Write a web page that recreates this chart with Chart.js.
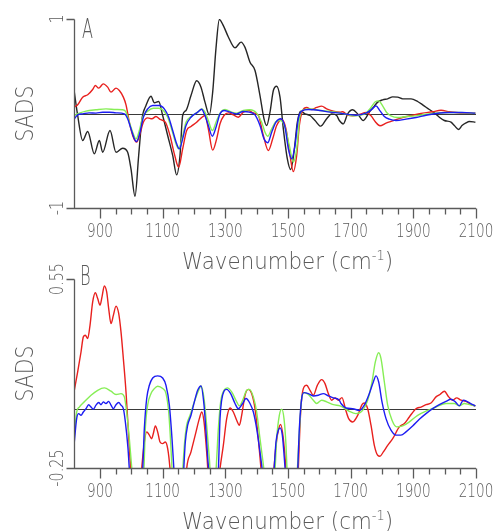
<!DOCTYPE html>
<html>
<head>
<meta charset="utf-8">
<script src="https://cdn.jsdelivr.net/npm/chart.js@4.4.1/dist/chart.umd.min.js"></script>
<style>
  html, body { margin: 0; padding: 0; background: #fff; }
  #wrap { position: relative; width: 495px; height: 531px; overflow: hidden; }
  #wrap canvas { position: absolute; left: 0; }
  #panelA { top: 0; }
  #panelB { top: 260px; }
</style>
</head>
<body>
<div id="wrap">
  <canvas id="panelA" width="495" height="275"></canvas>
  <canvas id="panelB" width="495" height="271"></canvas>
</div>
<script>
// ---- tick labels ----
const xTickMajor = [900, 1100, 1300, 1500, 1700, 1900, 2100];
const xTickMinor = [950, 1000, 1050, 1150, 1200, 1250, 1350, 1400, 1450, 1550, 1600, 1650,
                    1750, 1800, 1850, 1950, 2000, 2050];
const yTicksA = [-1, 1];
const yTickLabelsA = ['-1', '1'];
const yTicksB = [-0.25, 0.55];
const yTickLabelsB = ['-0.25', '0.55'];

// ---- panel A : SADS ----
const waveA_black = [818, 828.7, 844.7, 860.7, 881.9, 897.9, 908.5, 931.9, 951.1, 972.3, 988.3, 998.9,
  1011.7, 1023.4, 1034, 1046.8, 1062.8, 1073.4, 1087.2, 1100, 1116, 1132, 1144.7, 1155.3, 1163.8,
  1174.5, 1190.4, 1208.5, 1222.3, 1235, 1249, 1259.6, 1270, 1280.9, 1293.6, 1309.6, 1330.9, 1350,
  1362.8, 1378.7, 1394.7, 1410.6, 1423.4, 1432, 1442.5, 1453.2, 1463.8, 1474.5, 1485.1, 1497.9,
  1508.5, 1519.1, 1529.8, 1540.4, 1554.3, 1570.2, 1586.2, 1604.3, 1623.4, 1639.4, 1655.3, 1663.8,
  1676.6, 1690.4, 1706.4, 1722.4, 1740.4, 1759.6, 1775.5, 1786.2, 1802.1, 1818.1, 1834.1, 1850,
  1866, 1892.6, 1913.8, 1929.8, 1951.1, 1967, 1983, 1999, 2020.2, 2030.9, 2044.7, 2055.3, 2068.1,
  2078.7, 2098];
const sadsA_black = [0.226, -0.02, -0.286, -0.19, -0.427, -0.286, -0.41, -0.18, -0.41, -0.367, -0.41, -0.586,
  -0.875, -0.444, -0.056, 0.085, 0.183, 0.113, 0.127, -0.021, -0.233, -0.444, -0.649, -0.444, -0.021,
  0.032, 0.19, 0.346, 0.279, 0.12, -0.014, 0.226, 0.684, 0.995, 0.93, 0.81, 0.695, 0.755,
  0.70, 0.543, 0.455, 0.19, -0.056, -0.127, 0.014, 0.243, 0.289, 0.173, -0.162, -0.48,
  -0.593, -0.409, -0.092, 0.025, -0.004, -0.021, -0.074, -0.134, -0.056, -0.004, -0.021, -0.074,
  -0.11, -0.004, 0.039, -0.004, -0.074, 0.014, 0.078, 0.12, 0.145, 0.155, 0.176, 0.173,
  0.155, 0.155, 0.127, 0.092, 0.042, 0.007, -0.039, -0.074, -0.092, -0.127, -0.169, -0.127, -0.099,
  -0.085, -0.092];

const waveA_red = [818, 828.7, 844.7, 860.7, 876.6, 885.1, 895.8, 910.6, 924.5, 935.1, 951.1, 961.7,
  974.5, 983, 993.6, 1004.3, 1017, 1027.7, 1038.3, 1052.1, 1065.9, 1078.7, 1091.5, 1108.5, 1123.4,
  1137.2, 1151, 1163.8, 1176.6, 1190.4, 1208.5, 1222.3, 1235, 1245.7, 1259.6, 1272.3, 1283, 1295.7,
  1309.6, 1325.5, 1341.5, 1357.4, 1373.4, 1389.4, 1405.3, 1421.3, 1437.2, 1451.1, 1463.8, 1479.8,
  1493.6, 1506.4, 1517, 1527.7, 1536.2, 1546.8, 1559.6, 1575.5, 1591.5, 1607.4, 1623.4, 1644.7,
  1666, 1674.5, 1690.4, 1706.4, 1727.7, 1749, 1764.9, 1778.7, 1793.6, 1812.8, 1834.1, 1866,
  1897.9, 1929.8, 1961.7, 1988.3, 2014.9, 2036.2, 2057.4, 2098];
const sadsA_red = [0.067, 0.092, 0.173, 0.198, 0.254, 0.296, 0.268, 0.314, 0.279, 0.226, 0.268, 0.243,
  0.173, 0.092, -0.092, -0.233, -0.303, -0.215, -0.092, -0.046, -0.056, -0.032, -0.063, -0.092, -0.233,
  -0.427, -0.568, -0.374, -0.18, -0.138, -0.092, -0.049, -0.021, -0.162, -0.388, -0.268, -0.109, -0.021,
  0.007, -0.014, -0.039, 0.014, 0.032, 0.007, -0.021, -0.233, -0.392, -0.268, -0.127, -0.063,
  -0.162, -0.444, -0.614, -0.444, -0.127, 0.032, 0.064, 0.042, 0.064, 0.078, 0.049, 0.025,
  0.014, 0.018, -0.018, -0.025, -0.011, 0.011, -0.025, -0.088, -0.13, -0.102, -0.078, -0.042,
  -0.018, 0.004, 0.018, 0.035, 0.018, 0.011, 0.004, 0.004];

const waveA_green = [818, 834, 855.3, 887.2, 919.1, 951.1, 972.3, 983, 993.6, 1004.3, 1015, 1025.5,
  1036.2, 1052.1, 1070.2, 1087.2, 1102.1, 1116, 1129.8, 1142.6, 1151, 1161.7, 1174.5, 1190.4, 1211.7,
  1225, 1235, 1245.7, 1258.5, 1272.3, 1285.1, 1299, 1320.2, 1336.2, 1357.4, 1378.7, 1400, 1416,
  1426.6, 1435.1, 1447.9, 1461.7, 1476.6, 1490.4, 1504.2, 1517, 1527.7, 1538.3, 1549, 1570.2, 1602.1,
  1634, 1666, 1685.1, 1706.4, 1727.7, 1749, 1764.9, 1778.7, 1789.4, 1802.1, 1814.9, 1828.7, 1850,
  1876.6, 1908.5, 1940.4, 1972.3, 2004.3, 2036.2, 2098];
const sadsA_green = [-0.021, 0.004, 0.025, 0.039, 0.049, 0.042, 0.039, 0.014, -0.092, -0.198, -0.268, -0.18,
  -0.039, 0.025, 0.056, 0.056, 0.032, -0.039, -0.18, -0.321, -0.374, -0.268, -0.092, -0.032, 0.014,
  0.049, 0.014, -0.074, -0.18, -0.074, 0.014, 0.042, 0.014, 0.004, 0.032, 0.039, 0.004, -0.092,
  -0.198, -0.24, -0.162, -0.085, -0.074, -0.145, -0.339, -0.515, -0.374, -0.021, 0.039, 0.049, 0.032,
  0.021, 0.007, -0.007, -0.025, -0.018, 0.004, 0.064, 0.124, 0.134, 0.081, 0.011, -0.025, -0.042,
  -0.032, -0.025, -0.007, 0.004, 0.011, 0.011, 0.004];

const waveA_blue = [818, 828.7, 844.7, 865, 887.2, 908.5, 930, 951.1, 977.7, 988.3, 998.9, 1009.6,
  1017, 1027.7, 1038.3, 1052.1, 1068.1, 1089.4, 1105.3, 1119.2, 1132, 1144.7, 1153.2, 1163.8, 1174.5,
  1190.4, 1211.7, 1224, 1235, 1245.7, 1258.5, 1270.2, 1283, 1295.7, 1315, 1336.2, 1357.4, 1376.6,
  1394.7, 1410.6, 1423.4, 1435.1, 1447.9, 1461.7, 1476.6, 1490.4, 1501.1, 1511.7, 1522.3, 1532.9,
  1543.6, 1564.9, 1602.1, 1634, 1666, 1685, 1717, 1749, 1768.1, 1780.9, 1793.6, 1807.5, 1823.4,
  1844.7, 1876.6, 1908.5, 1940.4, 1972.3, 2014.9, 2055, 2098];
const sadsA_blue = [-0.056, -0.014, -0.004, 0.007, 0.004, 0.014, 0.014, 0.007, -0.004, -0.056, -0.162, -0.268,
  -0.296, -0.198, -0.039, 0.049, 0.085, 0.085, 0.049, -0.039, -0.18, -0.321, -0.374, -0.268, -0.127,
  -0.039, 0.014, 0.045, -0.021, -0.127, -0.24, -0.145, -0.004, 0.032, 0.014, -0.004, 0.021, 0.014,
  -0.014, -0.127, -0.268, -0.31, -0.198, -0.092, -0.056, -0.145, -0.374, -0.48, -0.339, -0.056,
  0.025, 0.042, 0.032, 0.014, 0.004, -0.007, -0.018, 0.004, 0.046, 0.081, 0.028, -0.032, -0.06,
  -0.074, -0.06, -0.042, -0.018, 0, 0.011, 0.011, 0.004];

// ---- panel B : SADS ----
const waveB_red = [818, 828.7, 839.4, 846.8, 853.2, 860.7, 868.1, 876.6, 885.1, 892.6, 900, 906.4,
  913.8, 921.3, 927.7, 935.1, 942.6, 951.1, 959.6, 967, 974.5, 983, 989.4, 995.8, 1017, 1034,
  1041.5, 1049, 1057.5, 1064.9, 1070.2, 1076.6, 1084, 1091.5, 1100, 1108.5, 1116, 1123.4, 1150,
  1176.6, 1190.4, 1206.4, 1217, 1225, 1232, 1240.4, 1260, 1283, 1293.6, 1304.3, 1314.9, 1325.5,
  1336.2, 1344.7, 1352.1, 1362.8, 1373.4, 1384, 1394.7, 1405.3, 1413.8, 1437, 1455.3, 1461.7,
  1469.2, 1476.6, 1485.1, 1493.6, 1515, 1533, 1538.3, 1543.6, 1551, 1559.6, 1570.2, 1580.8,
  1593.6, 1607.4, 1618.1, 1628.7, 1639.4, 1650, 1660.6, 1672.3, 1683, 1693.6, 1706.4, 1722.4,
  1736.2, 1743.6, 1754.3, 1764.9, 1775.5, 1786.2, 1793.6, 1804.3, 1818.1, 1834.1, 1855.3, 1871.3,
  1887.2, 1908.5, 1924.5, 1940.4, 1956.4, 1972.3, 1985.1, 1999, 2012.8, 2025.5, 2038.3, 2052.1,
  2068.1, 2084, 2098];
const sadsB_red = [0.079, 0.157, 0.241, 0.305, 0.312, 0.298, 0.354, 0.453, 0.492, 0.467, 0.439, 0.474,
  0.521, 0.495, 0.425, 0.361, 0.396, 0.435, 0.404, 0.326, 0.213, 0.072, -0.069, -0.21, -0.5, -0.238,
  -0.14, -0.097, -0.111, -0.126, -0.104, -0.072, -0.097, -0.14, -0.147, -0.14, -0.168, -0.253, -0.8,
  -0.253, -0.182, -0.097, -0.041, -0.013, -0.055, -0.182, -0.55, -0.253, -0.154, -0.041, 0.004, -0.013,
  -0.048, -0.069, -0.027, 0.058, 0.083, 0.065, 0.001, -0.126, -0.253, -0.6, -0.253, -0.154,
  -0.09, -0.066, -0.126, -0.26, -0.9, -0.253, -0.069, 0.044, 0.093, 0.1, 0.079, 0.058,
  0.1, 0.124, 0.107, 0.065, 0.037, 0.047, 0.037, 0.048, 0.001, -0.041, -0.055, -0.027,
  0.018, 0.025, 0.001, -0.069, -0.154, -0.196, -0.2, -0.182, -0.154, -0.126, -0.076, -0.062,
  -0.034, 0.001, 0.008, 0.018, 0.025, 0.051, 0.061, 0.075, 0.051, 0.037, 0.047, 0.037,
  0.032, 0.018, 0.013];

const waveB_green = [818, 825.5, 834, 850, 871.3, 892.6, 913.8, 935.1, 951.1, 967, 977.7, 985.1,
  993.6, 1002.1, 1020, 1040, 1044.7, 1052.1, 1062.8, 1073.4, 1084, 1100, 1110.6, 1119.2, 1126.6,
  1130, 1148, 1164, 1169.2, 1176.6, 1187.3, 1201.1, 1214.9, 1222.3, 1232, 1240.4, 1249, 1259,
  1270.2, 1277.7, 1285.1, 1295.7, 1306.4, 1320.2, 1336.2, 1344.7, 1355.3, 1368.1, 1376.6, 1389.4,
  1400, 1410.6, 1423.4, 1438, 1458.5, 1463.8, 1472.3, 1479.8, 1487.2, 1493.6, 1497, 1513, 1529.8,
  1536.2, 1543.6, 1551, 1564.9, 1580.8, 1591.5, 1607.4, 1623.4, 1644.7, 1666, 1674.5, 1695.8,
  1717, 1738.3, 1754.3, 1768.1, 1778.7, 1789.4, 1796.8, 1807.5, 1818.1, 1832, 1846.8, 1866,
  1887.2, 1913.8, 1945.7, 1972.3, 2004.3, 2030.9, 2046.8, 2062.8, 2078.7, 2098];
const sadsB_green = [-0.111, -0.013, 0.008, 0.03, 0.058, 0.079, 0.089, 0.075, 0.061, 0.065, 0.051, -0.013,
  -0.126, -0.26, -0.45, -0.26, -0.083, 0.016, 0.065, 0.086, 0.096, 0.086, 0.065, -0.013, -0.168,
  -0.26, -0.6, -0.26, -0.154, -0.069, -0.027, 0.03, 0.079, 0.097, 0.044, -0.069, -0.21, -0.4,
  -0.26, -0.083, 0.03, 0.079, 0.089, 0.072, 0.03, 0.013, 0.037, 0.079, 0.083, 0.051,
  -0.013, -0.126, -0.26, -0.45, -0.26, -0.126, -0.027, -0.001, -0.041, -0.154, -0.26, -0.7, -0.26,
  -0.097, 0.044, 0.069, 0.061, 0.037, 0.023, 0.037, 0.03, 0.018, 0.013, 0.008, -0.01,
  -0.02, -0.006, 0.037, 0.114, 0.199, 0.238, 0.213, 0.114, 0.016, -0.048, -0.076, -0.072,
  -0.055, -0.027, -0.006, 0.008, 0.023, 0.023, 0.013, 0.023, 0.018, 0.013];

const waveB_blue = [818, 825.5, 831.9, 839.4, 846.8, 855.3, 863.8, 871.3, 878.7, 887.2, 895.8, 903.2,
  910.6, 919.1, 927.7, 935.1, 942.6, 951.1, 959.6, 967, 974.5, 980.9, 989.4, 994, 1015, 1036,
  1041.5, 1049, 1057.5, 1068.1, 1084, 1100, 1110.6, 1121.3, 1129.8, 1136, 1152, 1167, 1172.3,
  1179.8, 1190.4, 1201.1, 1211.7, 1222.3, 1232, 1238.3, 1244.7, 1260, 1277.7, 1283, 1288.3, 1295.7,
  1304.3, 1317, 1330.9, 1341.5, 1355.3, 1366, 1378.7, 1389.4, 1400, 1410.6, 1418, 1436, 1455.3,
  1461.7, 1469.2, 1474.5, 1481.9, 1488.3, 1491, 1510, 1530.9, 1536.2, 1543.6, 1551, 1564.9, 1580.8,
  1596.8, 1612.8, 1628.7, 1644.7, 1663.8, 1669.2, 1685.1, 1706.4, 1727.7, 1743.6, 1759.6, 1772.3,
  1780.9, 1789.4, 1800, 1812.8, 1828.7, 1844.7, 1860.6, 1876.6, 1897.9, 1919.1, 1940.4, 1961.7,
  1983, 2004.3, 2020.2, 2034, 2046.8, 2059.6, 2073.4, 2089.3, 2098];
const sadsB_blue = [-0.14, -0.041, -0.02, -0.027, -0.013, 0.001, 0.018, 0.008, -0.001, 0.016, 0.027, 0.018,
  0.03, 0.023, 0.032, 0.016, 0.001, 0.018, 0.027, 0.016, 0.001, -0.055, -0.168, -0.26, -0.45, -0.26,
  -0.083, 0.044, 0.1, 0.131, 0.14, 0.131, 0.1, 0.016, -0.126, -0.26, -0.6, -0.26, -0.14,
  -0.069, -0.027, 0.03, 0.079, 0.097, 0.016, -0.097, -0.224, -0.4, -0.26, -0.041, 0.037, 0.075,
  0.083, 0.065, 0.023, 0.001, 0.023, 0.044, 0.023, -0.013, -0.083, -0.182, -0.26, -0.5, -0.26,
  -0.14, -0.09, -0.08, -0.111, -0.21, -0.26, -0.7, -0.26, -0.083, 0.044, 0.069, 0.065, 0.055,
  0.058, 0.065, 0.055, 0.047, 0.037, 0.023, 0.004, 0.001, -0.006, 0.016, 0.065, 0.114,
  0.14, 0.114, 0.03, -0.041, -0.09, -0.111, -0.111, -0.097, -0.072, -0.044, -0.02, 0.001,
  0.018, 0.032, 0.041, 0.03, 0.013, 0.037, 0.03, 0.018, 0.013];

// ---- styling ----
const COL = {
  black: '#262626',
  red: '#e8201e',
  green: '#86ee55',
  blue: '#1c1cf2',
  axis: '#5a5a5a',
  zero: '#3a3a3a',
  text: '#5a5a5a'
};
// thin lettering; falls back to regular DejaVu if the light cut is missing
const FONT = '200 {S}px "DejaVu Sans ExtraLight", "DejaVu Sans", sans-serif';

function font(size) {
  return FONT.replace('{S}', size);
}

function pts(xs, ys) {
  return xs.map((x, i) => ({ x: x, y: ys[i] }));
}

function line(xs, ys, color) {
  return {
    data: pts(xs, ys),
    borderColor: color,
    borderWidth: 1.4,
    pointRadius: 0,
    fill: false,
    cubicInterpolationMode: 'monotone'
  };
}

// draws text squeezed horizontally (the lettering is tall and narrow)
function txt(ctx, s, x, y, size, sx, align, rot) {
  ctx.save();
  ctx.font = font(size);
  ctx.fillStyle = COL.text;
  ctx.textAlign = align || 'center';
  ctx.textBaseline = 'alphabetic';
  ctx.translate(x, y);
  if (rot) ctx.rotate(rot);
  ctx.scale(sx, 1);
  ctx.fillText(s, 0, 0);
  ctx.restore();
}

const frame = {
  id: 'frame',
  beforeDatasetsDraw(chart, args, o) {
    const { ctx, chartArea: a, scales: { y } } = chart;
    const y0 = Math.round(y.getPixelForValue(0)) + 0.5;
    ctx.save();
    ctx.strokeStyle = COL.zero;
    ctx.lineWidth = 1.2;
    ctx.beginPath();
    ctx.moveTo(a.left, y0);
    ctx.lineTo(a.right, y0);
    ctx.stroke();
    ctx.restore();
  },
  afterDraw(chart, args, o) {
    const { ctx, chartArea: a, scales: { x, y } } = chart;
    const L = Math.round(a.left) + 0.5;
    const B = Math.round(a.bottom) + 0.5;
    ctx.save();
    ctx.strokeStyle = COL.axis;
    ctx.lineWidth = 1.3;
    ctx.beginPath();
    // y axis + its end ticks
    ctx.moveTo(L, Math.round(a.top) + 0.5);
    ctx.lineTo(L, B);
    o.yTicks.forEach(v => {
      const py = Math.round(y.getPixelForValue(v)) + 0.5;
      ctx.moveTo(L - 8, py);
      ctx.lineTo(L, py);
    });
    // x axis
    ctx.moveTo(L, B);
    ctx.lineTo(a.right, B);
    xTickMajor.forEach(v => {
      const px = Math.round(x.getPixelForValue(v)) + 0.5;
      ctx.moveTo(px, B);
      ctx.lineTo(px, B + 10);
    });
    xTickMinor.forEach(v => {
      const px = Math.round(x.getPixelForValue(v)) + 0.5;
      ctx.moveTo(px, B);
      ctx.lineTo(px, B + 6);
    });
    ctx.stroke();
    ctx.restore();

    // x tick labels
    xTickMajor.forEach(v => {
      txt(ctx, String(v), x.getPixelForValue(v), a.bottom + 29, 20, 0.68, 'center');
    });
    // y tick labels, written upwards
    o.yTicks.forEach((v, i) => {
      txt(ctx, o.yLabels[i], L - 12, y.getPixelForValue(v), 20, 0.72, 'center', -Math.PI / 2);
    });
    // y title
    txt(ctx, 'SADS', 33, (a.top + a.bottom) / 2, 25, 0.82, 'center', -Math.PI / 2);
    // panel letter
    txt(ctx, o.letter, o.letterX, o.letterY, 26, 0.62, 'left');

    // x title with superscript
    const big = 23, small = 14;
    ctx.save();
    ctx.font = font(big);
    const w1 = ctx.measureText('Wavenumber (cm').width;
    const w3 = ctx.measureText(')').width;
    ctx.font = font(small);
    const w2 = ctx.measureText('-1').width;
    ctx.restore();
    const sx = 211 / (w1 + w2 + w3);
    const x0 = 182, yb = a.bottom + 61;
    txt(ctx, 'Wavenumber (cm', x0, yb, big, sx, 'left');
    txt(ctx, '-1', x0 + w1 * sx, yb - 9, small, sx, 'left');
    txt(ctx, ')', x0 + (w1 + w2) * sx, yb, big, sx, 'left');
  }
};

function makeChart(id, datasets, yMin, yMax, bottomPad, plugOpts) {
  return new Chart(document.getElementById(id), {
    type: 'line',
    data: { datasets: datasets },
    options: {
      responsive: false,
      animation: false,
      devicePixelRatio: 1,
      layout: { padding: { left: 74, right: 19, top: 19, bottom: bottomPad } },
      scales: {
        x: { type: 'linear', min: 817, max: 2100, display: false },
        y: { type: 'linear', min: yMin, max: yMax, display: false }
      },
      plugins: {
        legend: { display: false },
        tooltip: { enabled: false },
        frame: plugOpts
      }
    },
    plugins: [frame]
  });
}

// first dataset ends up on top
makeChart('panelA', [
  line(waveA_blue, sadsA_blue, COL.blue),
  line(waveA_green, sadsA_green, COL.green),
  line(waveA_red, sadsA_red, COL.red),
  line(waveA_black, sadsA_black, COL.black)
], -1, 1, 67, { yTicks: yTicksA, yLabels: yTickLabelsA, letter: 'A', letterX: 82, letterY: 38 });

makeChart('panelB', [
  line(waveB_blue, sadsB_blue, COL.blue),
  line(waveB_green, sadsB_green, COL.green),
  line(waveB_red, sadsB_red, COL.red)
], -0.25, 0.55, 63, { yTicks: yTicksB, yLabels: yTickLabelsB, letter: 'B', letterX: 80, letterY: 25 });
</script>
</body>
</html>
